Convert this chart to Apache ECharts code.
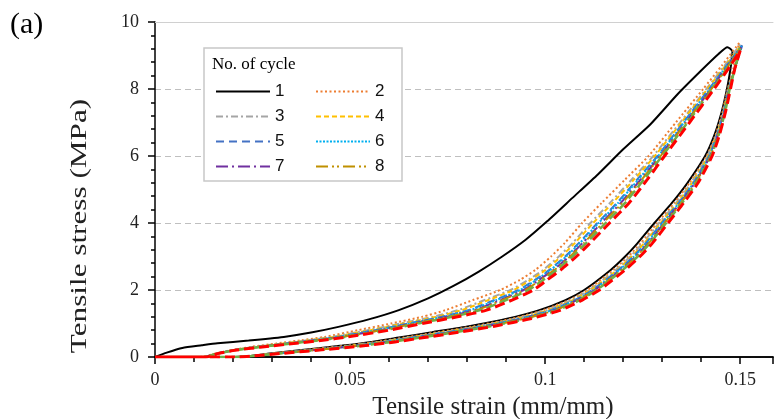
<!DOCTYPE html>
<html>
<head>
<meta charset="utf-8">
<script src="https://cdn.jsdelivr.net/npm/echarts@6/dist/echarts.min.js"></script>
<style>
  html, body { margin: 0; padding: 0; background: #fff; }
  #chart { width: 776px; height: 419px; }
</style>
</head>
<body>
<div id="chart"></div>
<script>
// Cyclic tensile loading: stress-strain loops for 10 cycles.

// Cycle 1: first loading branch (own shape, starts at the origin)
const c1LoadStrain = [0, 0.003, 0.007, 0.012, 0.016, 0.024, 0.033, 0.040, 0.047, 0.055, 0.0625, 0.070, 0.0765, 0.083, 0.089, 0.095, 0.1005, 0.107, 0.1135, 0.120, 0.127, 0.134, 0.140, 0.1445, 0.1467, 0.148];
const c1LoadStress = [0, 0.13, 0.27, 0.35, 0.41, 0.49, 0.60, 0.73, 0.90, 1.13, 1.40, 1.75, 2.12, 2.55, 3.0, 3.5, 4.05, 4.75, 5.45, 6.2, 6.95, 7.85, 8.55, 9.05, 9.25, 9.12];

// Cycles 2-10: loading branch, strain at each stress level
const loadStress = [0, 0, 0.1, 0.2, 0.3, 0.4, 0.5, 0.6, 0.8, 1.0, 1.2, 1.4, 1.7, 2.0, 2.3, 2.6, 3.0, 3.4, 4.0, 4.6, 5.3, 6.0, 7.0, 8.0, 8.7];
const c2Load  = [0, 0.0115, 0.0155, 0.0195, 0.0245, 0.0310, 0.0375, 0.0435, 0.0520, 0.0605, 0.0685, 0.0745, 0.0815, 0.0885, 0.0935, 0.0975, 0.1015, 0.1050, 0.1095, 0.1145, 0.1205, 0.1265, 0.1335, 0.1405, 0.1453];
const c3Load  = [0, 0.0120, 0.0157, 0.0198, 0.0254, 0.0324, 0.0392, 0.0453, 0.0544, 0.0629, 0.0712, 0.0777, 0.0845, 0.0911, 0.0956, 0.0995, 0.1035, 0.1070, 0.1116, 0.1166, 0.1222, 0.1277, 0.1346, 0.1413, 0.1460];
const c4Load  = [0, 0.0121, 0.0157, 0.0199, 0.0257, 0.0328, 0.0397, 0.0459, 0.0552, 0.0637, 0.0721, 0.0787, 0.0855, 0.0919, 0.0963, 0.1001, 0.1041, 0.1076, 0.1123, 0.1173, 0.1228, 0.1281, 0.1349, 0.1416, 0.1462];
const c5Load  = [0, 0.0123, 0.0158, 0.0201, 0.0262, 0.0335, 0.0405, 0.0468, 0.0564, 0.0649, 0.0735, 0.0803, 0.0870, 0.0932, 0.0974, 0.1011, 0.1051, 0.1086, 0.1134, 0.1184, 0.1236, 0.1288, 0.1354, 0.1420, 0.1465];
const c6Load  = [0, 0.0124, 0.0158, 0.0201, 0.0263, 0.0337, 0.0408, 0.0471, 0.0568, 0.0653, 0.0739, 0.0808, 0.0875, 0.0936, 0.0977, 0.1014, 0.1054, 0.1089, 0.1137, 0.1187, 0.1239, 0.1290, 0.1356, 0.1422, 0.1466];
const c7Load  = [0, 0.0126, 0.0159, 0.0202, 0.0266, 0.0342, 0.0414, 0.0477, 0.0576, 0.0661, 0.0748, 0.0819, 0.0885, 0.0945, 0.0984, 0.1021, 0.1061, 0.1096, 0.1144, 0.1194, 0.1245, 0.1294, 0.1360, 0.1425, 0.1468];
const c8Load  = [0, 0.0126, 0.0159, 0.0203, 0.0268, 0.0344, 0.0416, 0.0480, 0.0580, 0.0665, 0.0753, 0.0824, 0.0890, 0.0949, 0.0988, 0.1024, 0.1064, 0.1099, 0.1148, 0.1198, 0.1248, 0.1296, 0.1361, 0.1426, 0.1470];
const c9Load  = [0, 0.0128, 0.0159, 0.0204, 0.0271, 0.0348, 0.0422, 0.0486, 0.0588, 0.0673, 0.0762, 0.0834, 0.0900, 0.0957, 0.0995, 0.1030, 0.1070, 0.1105, 0.1155, 0.1205, 0.1253, 0.1300, 0.1365, 0.1429, 0.1472];
const c10Load = [0, 0.0130, 0.0160, 0.0205, 0.0275, 0.0355, 0.0430, 0.0495, 0.0600, 0.0685, 0.0775, 0.0850, 0.0915, 0.0970, 0.1005, 0.1040, 0.1080, 0.1115, 0.1165, 0.1215, 0.1262, 0.1306, 0.1370, 0.1433, 0.1475];

// Peak points of cycles 2-10
const peakStrain = [0.1497, 0.1500, 0.1502, 0.1505, 0.1503, 0.1502, 0.1500, 0.1500, 0.1500];
const peakStress = [9.37, 9.33, 9.30, 9.30, 9.28, 9.25, 9.22, 9.20, 9.15];

// Unloading branch, strain at each stress level (all cycles)
const unloadStress = [8.6, 8.0, 7.3, 6.6, 6.0, 5.2, 4.6, 4.0, 3.4, 3.0, 2.6, 2.0, 1.7, 1.4, 1.15, 0.92, 0.74, 0.58, 0.45, 0.34, 0.2, 0.11, 0.03, 0, 0];
const c1Unload  = [0.1475, 0.1466, 0.1452, 0.1433, 0.1410, 0.1365, 0.1325, 0.1280, 0.1237, 0.1205, 0.1168, 0.1100, 0.1052, 0.0985, 0.0905, 0.0805, 0.0710, 0.0625, 0.0555, 0.0480, 0.0370, 0.0300, 0.0240, 0.0200, 0.0200];
const c2Unload  = [0.1482, 0.1468, 0.1454, 0.1436, 0.1414, 0.1370, 0.1331, 0.1287, 0.1245, 0.1213, 0.1175, 0.1108, 0.1061, 0.0996, 0.0917, 0.0818, 0.0724, 0.0638, 0.0567, 0.0492, 0.0379, 0.0305, 0.0242, 0.0202, 0];
const c3Unload  = [0.1484, 0.1469, 0.1456, 0.1438, 0.1416, 0.1374, 0.1336, 0.1292, 0.1250, 0.1218, 0.1181, 0.1113, 0.1067, 0.1004, 0.0926, 0.0828, 0.0735, 0.0648, 0.0576, 0.0501, 0.0386, 0.0309, 0.0244, 0.0204, 0];
const c4Unload  = [0.1485, 0.1470, 0.1457, 0.1439, 0.1418, 0.1377, 0.1339, 0.1296, 0.1254, 0.1222, 0.1185, 0.1117, 0.1071, 0.1010, 0.0932, 0.0834, 0.0742, 0.0654, 0.0582, 0.0507, 0.0390, 0.0312, 0.0245, 0.0205, 0];
const c5Unload  = [0.1486, 0.1471, 0.1458, 0.1440, 0.1420, 0.1380, 0.1342, 0.1299, 0.1258, 0.1226, 0.1188, 0.1121, 0.1076, 0.1015, 0.0938, 0.0841, 0.0749, 0.0661, 0.0588, 0.0513, 0.0395, 0.0315, 0.0246, 0.0206, 0];
const c6Unload  = [0.1486, 0.1471, 0.1458, 0.1441, 0.1421, 0.1381, 0.1343, 0.1301, 0.1260, 0.1228, 0.1190, 0.1123, 0.1078, 0.1018, 0.0941, 0.0844, 0.0752, 0.0664, 0.0591, 0.0516, 0.0397, 0.0316, 0.0246, 0.0206, 0];
const c7Unload  = [0.1486, 0.1472, 0.1459, 0.1442, 0.1423, 0.1384, 0.1346, 0.1305, 0.1264, 0.1232, 0.1194, 0.1127, 0.1082, 0.1024, 0.0947, 0.0851, 0.0759, 0.0671, 0.0597, 0.0522, 0.0402, 0.0319, 0.0247, 0.0207, 0];
const c8Unload  = [0.1486, 0.1472, 0.1460, 0.1443, 0.1424, 0.1385, 0.1348, 0.1306, 0.1266, 0.1234, 0.1196, 0.1129, 0.1084, 0.1026, 0.0950, 0.0854, 0.0763, 0.0674, 0.0600, 0.0525, 0.0404, 0.0320, 0.0248, 0.0208, 0];
const c9Unload  = [0.1486, 0.1473, 0.1461, 0.1444, 0.1425, 0.1388, 0.1351, 0.1310, 0.1269, 0.1237, 0.1199, 0.1132, 0.1089, 0.1032, 0.0956, 0.0860, 0.0770, 0.0680, 0.0606, 0.0531, 0.0408, 0.0323, 0.0249, 0.0209, 0];
const c10Unload = [0.1486, 0.1475, 0.1462, 0.1446, 0.1428, 0.1392, 0.1355, 0.1315, 0.1275, 0.1243, 0.1205, 0.1139, 0.1095, 0.1040, 0.0965, 0.0870, 0.0780, 0.0690, 0.0615, 0.0540, 0.0415, 0.0327, 0.0250, 0.0210, 0];

const cycleNames = ['1', '2', '3', '4', '5', '6', '7', '8', '9', '10'];
const xTicks = [0, 0.05, 0.1, 0.15];
const yTicks = [0, 2, 4, 6, 8, 10];
const xMax = 0.1584;

const loadsRest = [c2Load, c3Load, c4Load, c5Load, c6Load, c7Load, c8Load, c9Load, c10Load];
const unloadsRest = [c2Unload, c3Unload, c4Unload, c5Unload, c6Unload, c7Unload, c8Unload, c9Unload, c10Unload];

function pairs(xs, ys) { return xs.map((x, i) => [x, ys[i]]); }

const loops = [pairs(c1LoadStrain, c1LoadStress).concat(pairs(c1Unload, unloadStress))];
loadsRest.forEach((ld, k) => {
  loops.push(pairs(ld, loadStress)
    .concat([[peakStrain[k], peakStress[k]]])
    .concat(pairs(unloadsRest[k], unloadStress)));
});

// line styles per cycle
const styles = [
  { color: '#000000', width: 2,   type: 'solid' },
  { color: '#ED7D31', width: 2,   type: [2, 2.5] },
  { color: '#A5A5A5', width: 2,   type: [7, 3, 2, 3] },
  { color: '#FFC000', width: 2,   type: [5, 3] },
  { color: '#4472C4', width: 2,   type: [8, 5] },
  { color: '#00B0F0', width: 2,   type: [2, 1.5] },
  { color: '#7030A0', width: 2,   type: [12, 4, 2, 4] },
  { color: '#BF9000', width: 2,   type: [12, 4, 2, 3, 2, 4] },
  { color: '#70AD47', width: 2.5, type: [10, 4] },
  { color: '#FF0000', width: 3,   type: [10, 5] }
];

const series = loops.map((d, i) => ({
  name: cycleNames[i],
  type: 'line',
  data: d,
  smooth: 0.2,
  symbol: 'none',
  showSymbol: false,
  animation: false,
  color: styles[i].color,
  lineStyle: { color: styles[i].color, width: styles[i].width, type: styles[i].type }
}));

const serif = 'Liberation Serif, Times New Roman, serif';
const black = { color: '#000', width: 1.5 };
const legendText = { fontFamily: 'Liberation Sans, Arial, sans-serif', fontSize: 17, color: '#111', lineHeight: 17 };

const chart = echarts.init(document.getElementById('chart'), null, { renderer: 'canvas' });
chart.setOption({
  animation: false,
  backgroundColor: '#fff',
  grid: { left: 155, top: 22, right: 0, height: 335, containLabel: false },
  xAxis: [{
    // minor ticks every 0.01
    type: 'value', min: 0, max: xMax, interval: 0.01,
    axisLine: { show: true, lineStyle: black },
    axisTick: { show: true, length: 5, lineStyle: black },
    axisLabel: { show: false },
    splitLine: { show: false }
  }, {
    // major ticks and labels every 0.05
    type: 'value', position: 'bottom', min: 0, max: xMax, interval: 0.05,
    axisLine: { show: true, lineStyle: black },
    axisTick: { show: true, length: 7, lineStyle: black },
    axisLabel: {
      fontFamily: serif, fontSize: 18, color: '#222', margin: 14,
      formatter: v => (xTicks.some(t => Math.abs(t - v) < 1e-9) ? String(+v.toFixed(2)) : '')
    },
    splitLine: { show: false }
  }, {
    // plot-area top border
    type: 'value', position: 'top', min: 0, max: xMax,
    axisLine: { show: true, lineStyle: { color: '#d0d0d0', width: 1 } },
    axisTick: { show: false }, axisLabel: { show: false }, splitLine: { show: false }
  }],
  yAxis: {
    type: 'value', min: 0, max: 10, interval: 2,
    axisLine: { show: true, lineStyle: black },
    axisTick: { show: true, length: 7, lineStyle: black },
    minorTick: { show: true, splitNumber: 5, length: 4, lineStyle: black },
    axisLabel: {
      fontFamily: serif, fontSize: 18, color: '#222', margin: 16,
      formatter: v => (yTicks.indexOf(v) >= 0 ? String(v) : '')
    },
    splitLine: { show: true, lineStyle: { color: '#bfbfbf', width: 1, type: [6, 4] } }
  },
  legend: [{
    data: ['1', '3', '5', '7'],
    orient: 'vertical', left: 215, top: 83, padding: 0,
    itemWidth: 54, itemHeight: 14, itemGap: 8, z: 20,
    itemStyle: { opacity: 0 },
    textStyle: legendText
  }, {
    data: ['2', '4', '6', '8'],
    orient: 'vertical', left: 315, top: 83, padding: 0,
    itemWidth: 54, itemHeight: 14, itemGap: 8, z: 20,
    itemStyle: { opacity: 0 },
    textStyle: legendText
  }],
  graphic: [
    { type: 'rect', z: 10, shape: { x: 204, y: 48, width: 198, height: 133 },
      style: { fill: '#fff', stroke: '#c8c8c8', lineWidth: 1.5 } },
    { type: 'text', z: 21, x: 212, y: 65,
      style: { text: 'No. of cycle', font: '17px ' + serif, fill: '#000',
               textAlign: 'left', textVerticalAlign: 'middle', align: 'left', verticalAlign: 'middle' } },
    { type: 'text', z: 21, x: 10, y: 25,
      style: { text: '(a)', font: '30px ' + serif, fill: '#000',
               textAlign: 'left', textVerticalAlign: 'middle', align: 'left', verticalAlign: 'middle' } },
    { type: 'text', z: 21, x: 493, y: 407,
      style: { text: 'Tensile strain (mm/mm)', font: '25px ' + serif, fill: '#222',
               textAlign: 'center', textVerticalAlign: 'middle', align: 'center', verticalAlign: 'middle' } },
    { type: 'text', z: 21, x: 80, y: 226, rotation: Math.PI / 2, scaleX: 1.3,
      style: { text: 'Tensile stress (MPa)', font: '24px ' + serif, fill: '#222',
               textAlign: 'center', textVerticalAlign: 'middle', align: 'center', verticalAlign: 'middle' } }
  ],
  series: series
});
</script>
</body>
</html>
